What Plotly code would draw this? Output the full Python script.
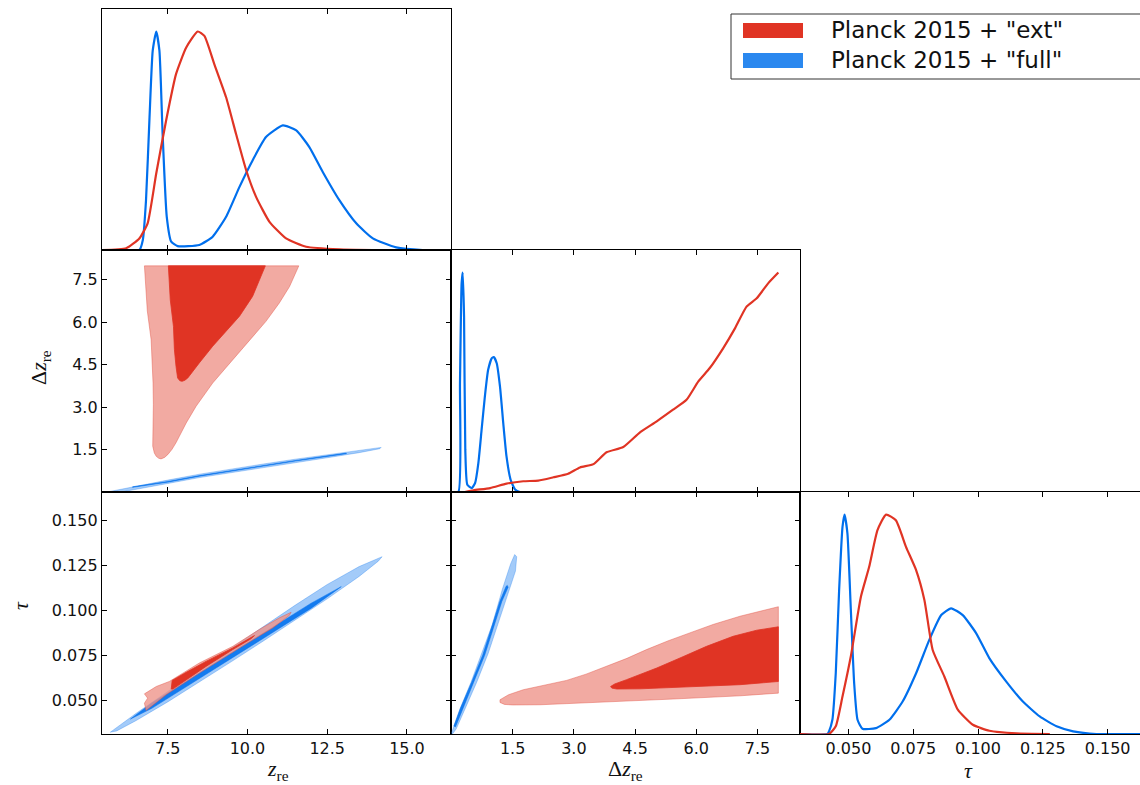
import plotly.graph_objects as go

W, H = 1140, 785
RED = "#E03424"
BLUE = "#006FED"
RED_LIGHT = "rgba(238,146,136,0.78)"
RED_DARK = "rgba(224,52,36,1.0)"
BLUE_LIGHT = "rgba(0,111,237,0.36)"
BLUE_DARK = "rgba(0,111,237,0.88)"

labels = ['Planck 2015 + "ext"', 'Planck 2015 + "full"']

# ---------------- 1D marginals ----------------
zre_ext_x = [5.44, 6.20, 6.61, 6.87, 7.14, 7.45, 7.76, 8.08, 8.44, 8.65, 8.96, 9.33, 9.64, 9.96,
             10.27, 10.69, 11.21, 11.84, 12.88, 13.93]
zre_ext_p = [0, 0.008, 0.053, 0.122, 0.350, 0.593, 0.805, 0.927, 1.0, 0.980, 0.851, 0.699, 0.532,
             0.365, 0.243, 0.129, 0.053, 0.015, 0.003, 0]

zre_full_x = [5.44, 6.61, 6.72, 6.82, 6.93, 7.03, 7.14, 7.24, 7.34, 7.47, 7.61, 7.81, 8.49, 8.91,
              9.33, 9.75, 10.16, 10.58, 11.11, 11.53, 11.94, 12.36, 12.88, 13.41, 13.93, 14.66,
              15.49, 16.38]
zre_full_p = [0, 0, 0.046, 0.228, 0.608, 0.912, 1.0, 0.912, 0.532, 0.152, 0.038, 0.018, 0.023,
              0.061, 0.152, 0.289, 0.410, 0.517, 0.570, 0.547, 0.471, 0.357, 0.228, 0.122, 0.053,
              0.012, 0, 0]

dz_ext_x = [0.33, 0.54, 0.95, 1.35, 1.76, 2.13, 2.50, 2.86, 3.15, 3.48, 3.80, 4.21, 4.62, 5.03,
            5.43, 5.76, 6.05, 6.33, 6.66, 6.95, 7.23, 7.48, 7.76, 8.01]
dz_ext_p = [0, 0.008, 0.018, 0.038, 0.049, 0.052, 0.067, 0.083, 0.112, 0.127, 0.181, 0.205, 0.272,
            0.322, 0.375, 0.42, 0.504, 0.565, 0.656, 0.747, 0.845, 0.883, 0.951, 1.0]

dz_full_x = [0.0, 0.17, 0.21, 0.25, 0.277, 0.31, 0.34, 0.39, 0.50, 0.58, 0.66, 0.74, 0.82, 0.90,
             0.99, 1.04, 1.11, 1.19, 1.27, 1.35, 1.45, 1.56, 1.68, 2.05]
dz_full_p = [0, 0, 0.496, 0.95, 1.0, 0.80, 0.193, 0.033, 0.018, 0.041, 0.132, 0.284, 0.436, 0.557,
             0.61, 0.615, 0.587, 0.481, 0.314, 0.162, 0.056, 0.011, 0, 0]

tau_ext_x = [0.0313, 0.0425, 0.0451, 0.0477, 0.0509, 0.0548, 0.0580, 0.0612, 0.0645, 0.0683,
             0.0722, 0.0761, 0.0793, 0.0825, 0.0870, 0.0922, 0.0980, 0.1044, 0.1148, 0.1277]
tau_ext_p = [0, 0, 0.035, 0.171, 0.353, 0.626, 0.762, 0.929, 1.0, 0.974, 0.853, 0.747, 0.611,
             0.383, 0.262, 0.111, 0.042, 0.015, 0.003, 0]

tau_full_x = [0.0313, 0.0419, 0.0425, 0.0438, 0.0451, 0.0464, 0.0477, 0.0485, 0.0496, 0.0509,
              0.0522, 0.0535, 0.0554, 0.0606, 0.0658, 0.0709, 0.0761, 0.0812, 0.0858, 0.0896,
              0.0941, 0.0993, 0.1044, 0.1109, 0.1173, 0.1238, 0.1303, 0.1367, 0.1457, 0.1625]
tau_full_p = [0, 0, 0.012, 0.065, 0.277, 0.656, 0.944, 1.0, 0.914, 0.571, 0.232, 0.065, 0.024,
              0.027, 0.065, 0.148, 0.277, 0.429, 0.542, 0.573, 0.542, 0.459, 0.345, 0.239,
              0.148, 0.080, 0.035, 0.012, 0, 0]

# ---------------- 2D contours: z_re vs Delta z_re ----------------
ext_zdz_95_x = [6.77, 6.80, 6.86, 6.98, 7.02, 7.04, 7.05, 7.04, 7.03, 7.08, 7.14, 7.22, 7.29, 7.40,
                7.50, 7.63, 7.76, 8.08, 8.39, 8.91, 9.54, 10.16, 10.58, 11.00, 11.32, 11.61]
ext_zdz_95_y = [7.99, 7.30, 6.40, 5.38, 4.60, 3.85, 3.10, 2.44, 1.62, 1.38, 1.26, 1.19, 1.17,
                1.22, 1.32, 1.50, 1.74, 2.44, 3.03, 3.85, 4.68, 5.50, 6.03, 6.68, 7.26, 7.99]
ext_zdz_68_x = [7.52, 7.55, 7.58, 7.68, 7.71, 7.76, 7.81, 7.88, 7.95, 8.04, 8.13, 8.49, 8.91,
                9.33, 9.75, 10.16, 10.56]
ext_zdz_68_y = [7.99, 7.40, 6.79, 5.85, 5.03, 4.44, 4.03, 3.93, 3.91, 3.95, 4.03, 4.56, 5.15,
                5.68, 6.21, 6.91, 7.99]

full_zdz_95_x = [5.6, 6.5, 7.5, 8.5, 9.5, 10.5, 11.5, 12.5, 13.5, 14.19,
                 14.15, 13.5, 12.5, 11.5, 10.5, 9.5, 8.5, 7.5, 6.5, 6.05]
full_zdz_95_y = [0.0, 0.21, 0.42, 0.63, 0.82, 0.99, 1.16, 1.32, 1.47, 1.575,
                 1.53, 1.39, 1.21, 1.04, 0.87, 0.70, 0.51, 0.30, 0.09, 0.0]
full_zdz_68_x = [6.4, 7.5, 8.5, 10.0, 11.5, 13.1, 13.1, 11.5, 10.0, 8.5, 7.5, 6.4]
full_zdz_68_y = [0.185, 0.372, 0.580, 0.858, 1.112, 1.375, 1.355, 1.092, 0.832, 0.560, 0.348, 0.165]

# ---------------- 2D contours: z_re vs tau ----------------
ext_ztau_95_x = [6.77, 7.14, 7.55, 8.49, 9.54, 10.37, 11.00, 11.37, 11.31, 10.79, 9.75, 8.49,
                 7.45, 6.82, 6.77, 6.87]
ext_ztau_95_y = [0.0535, 0.0576, 0.0604, 0.0707, 0.0800, 0.0894, 0.0959, 0.0990, 0.0972, 0.0903,
                 0.0791, 0.0651, 0.0530, 0.0442, 0.0483, 0.0511]
ext_ztau_68_x = [7.61, 7.64, 8.08, 8.70, 9.54, 10.22, 10.11, 9.54, 8.70, 8.08, 7.66]
ext_ztau_68_y = [0.0562, 0.0610, 0.0655, 0.0716, 0.0791, 0.0860, 0.0842, 0.0782, 0.0688, 0.0614,
                 0.0562]

full_ztau_95_x = [5.70, 6.5, 7.5, 8.5, 9.5, 10.5, 11.5, 12.5, 13.5, 14.0, 14.22,
                  14.1, 13.5, 12.5, 11.5, 10.5, 9.5, 8.5, 7.5, 6.5, 5.9]
full_ztau_95_y = [0.0321, 0.0425, 0.0548, 0.0670, 0.0790, 0.0910, 0.1030, 0.1145, 0.1245, 0.1285,
                  0.1300, 0.1275, 0.1190, 0.1065, 0.0945, 0.0830, 0.0715, 0.0600, 0.0490, 0.0385,
                  0.0328]
full_ztau_68_x = [6.33, 7.0, 8.0, 9.0, 10.0, 11.0, 12.0, 12.94, 12.0, 11.0, 10.0, 9.0, 8.0, 7.0]
full_ztau_68_y = [0.0394, 0.0484, 0.0596, 0.0708, 0.0819, 0.0931, 0.1041, 0.1133, 0.1013, 0.0901,
                  0.0789, 0.0678, 0.0566, 0.0454]

# ---------------- 2D contours: Delta z_re vs tau ----------------
ext_dztau_95_x = [1.19, 1.40, 1.76, 2.30, 2.82, 3.30, 3.80, 4.30, 4.78, 5.30, 5.84, 6.41, 7.07,
                  7.55, 8.01, 8.01, 7.07, 5.43, 3.80, 2.17, 1.50, 1.30, 1.19]
ext_dztau_95_y = [0.0502, 0.0530, 0.0558, 0.0584, 0.0610, 0.0645, 0.0688, 0.0733, 0.0782, 0.0830,
                  0.0875, 0.0922, 0.0968, 0.0996, 0.1021, 0.0539, 0.0524, 0.0506, 0.0489, 0.0474,
                  0.0473, 0.0476, 0.0487]
ext_dztau_68_x = [3.90, 4.00, 4.29, 5.03, 5.60, 6.25, 6.90, 7.48, 8.01, 8.01, 7.07, 5.84, 4.62,
                  4.05, 3.93]
ext_dztau_68_y = [0.0576, 0.0590, 0.0614, 0.0679, 0.0735, 0.0800, 0.0856, 0.0890, 0.0909, 0.0604,
                  0.0586, 0.0573, 0.0563, 0.0562, 0.0567]

full_dztau_95_x = [0.0, 0.2, 0.48, 0.72, 1.0, 1.25, 1.45, 1.55, 1.60, 1.57, 1.40, 1.15, 0.90,
                   0.62, 0.35, 0.12, 0.03]
full_dztau_95_y = [0.0315, 0.0445, 0.0600, 0.0750, 0.0920, 0.1120, 0.1260, 0.1312, 0.1300, 0.1220,
                   0.1100, 0.0930, 0.0760, 0.0600, 0.0460, 0.0340, 0.0312]
full_dztau_68_x = [0.06, 0.23, 0.495, 0.765, 0.975, 1.185, 1.34, 1.37, 1.39, 1.235, 1.025, 0.815,
                   0.545, 0.285, 0.10]
full_dztau_68_y = [0.0355, 0.0460, 0.0600, 0.0750, 0.0900, 0.1050, 0.1135, 0.1140, 0.1130, 0.1050,
                   0.0900, 0.0750, 0.0600, 0.0460, 0.0350]

# ---------------- axes ----------------
zre_ticks = [7.5, 10.0, 12.5, 15.0]
zre_ticktext = ["7.5", "10.0", "12.5", "15.0"]
dz_ticks = [1.5, 3.0, 4.5, 6.0, 7.5]
dz_ticktext = ["1.5", "3.0", "4.5", "6.0", "7.5"]
tau_ticks = [0.050, 0.075, 0.100, 0.125, 0.150]
tau_ticktext = ["0.050", "0.075", "0.100", "0.125", "0.150"]

Z_RANGE = [5.44, 16.38]
DZ_XRANGE = [-0.01, 8.54]
DZ_YRANGE = [0.0, 8.55]
TAU_XRANGE = [0.0313, 0.1625]
TAU_YRANGE = [0.0311, 0.1661]
P_RANGE = [0, 1.103]


def px(x):
    return x / W


def py(y):
    return 1 - y / H


cols = [[px(102), px(451)], [px(451), px(800)], [px(800), 1.0]]
rows = [[py(250), py(9)], [py(492), py(250)], [py(734), py(492)]]

fig = go.Figure()


def line(x, y, color, ax):
    fig.add_trace(go.Scatter(x=x, y=y, mode="lines", line=dict(color=color, width=2.2,
                             shape="spline", smoothing=0.5), xaxis="x" + ax, yaxis="y" + ax,
                             showlegend=False, hoverinfo="skip"))


def area(x, y, fill, edge, ax):
    fig.add_trace(go.Scatter(x=list(x) + [x[0]], y=list(y) + [y[0]], mode="lines", fill="toself",
                             fillcolor=fill, line=dict(color=edge, width=0.8),
                             xaxis="x" + ax, yaxis="y" + ax, showlegend=False, hoverinfo="skip"))


# diagonal panels
line(zre_full_x, zre_full_p, BLUE, "")
line(zre_ext_x, zre_ext_p, RED, "")
line(dz_full_x, dz_full_p, BLUE, "3")
line(dz_ext_x, dz_ext_p, RED, "3")
line(tau_full_x, tau_full_p, BLUE, "6")
line(tau_ext_x, tau_ext_p, RED, "6")

BL_EDGE = "rgba(0,111,237,0.35)"
BD_EDGE = "rgba(0,111,237,0.6)"
RL_EDGE = "rgba(224,80,66,0.55)"

# 2D panels
area(full_zdz_95_x, full_zdz_95_y, BLUE_LIGHT, BL_EDGE, "2")
area(full_zdz_68_x, full_zdz_68_y, BLUE_DARK, BD_EDGE, "2")
area(ext_zdz_95_x, ext_zdz_95_y, RED_LIGHT, RL_EDGE, "2")
area(ext_zdz_68_x, ext_zdz_68_y, RED_DARK, RED, "2")

area(full_ztau_95_x, full_ztau_95_y, BLUE_LIGHT, BL_EDGE, "4")
area(full_ztau_68_x, full_ztau_68_y, BLUE_DARK, BD_EDGE, "4")
area(ext_ztau_95_x, ext_ztau_95_y, RED_LIGHT, RL_EDGE, "4")
area(ext_ztau_68_x, ext_ztau_68_y, RED_DARK, RED, "4")

area(full_dztau_95_x, full_dztau_95_y, BLUE_LIGHT, BL_EDGE, "5")
area(full_dztau_68_x, full_dztau_68_y, BLUE_DARK, BD_EDGE, "5")
area(ext_dztau_95_x, ext_dztau_95_y, RED_LIGHT, RL_EDGE, "5")
area(ext_dztau_68_x, ext_dztau_68_y, RED_DARK, RED, "5")

TICKFONT = dict(family="DejaVu Sans", size=16, color="#111")


def axis(domain, rng, anchor, tickvals=None, ticktext=None, labels=False, ticks=True):
    d = dict(domain=domain, range=rng, anchor=anchor, showline=True, linecolor="black",
             linewidth=1.4, mirror="ticks" if ticks else True, showgrid=False, zeroline=False,
             ticks="inside" if ticks else "", ticklen=5, tickwidth=1.3, tickcolor="black",
             showticklabels=labels, tickfont=TICKFONT, fixedrange=True)
    if tickvals is not None:
        d["tickvals"] = tickvals
        d["ticktext"] = ticktext
    else:
        d["showticklabels"] = False
    return d


fig.update_layout(
    width=W, height=H, margin=dict(l=0, r=0, t=0, b=0),
    paper_bgcolor="white", plot_bgcolor="white",
    xaxis=axis(cols[0], Z_RANGE, "y", zre_ticks, zre_ticktext),
    yaxis=axis(rows[0], P_RANGE, "x", ticks=False),
    xaxis2=axis(cols[0], Z_RANGE, "y2", zre_ticks, zre_ticktext),
    yaxis2=axis(rows[1], DZ_YRANGE, "x2", dz_ticks, dz_ticktext, labels=True),
    xaxis3=axis(cols[1], DZ_XRANGE, "y3", dz_ticks, dz_ticktext),
    yaxis3=axis(rows[1], P_RANGE, "x3", ticks=False),
    xaxis4=axis(cols[0], Z_RANGE, "y4", zre_ticks, zre_ticktext, labels=True),
    yaxis4=axis(rows[2], TAU_YRANGE, "x4", tau_ticks, tau_ticktext, labels=True),
    xaxis5=axis(cols[1], DZ_XRANGE, "y5", dz_ticks, dz_ticktext, labels=True),
    yaxis5=axis(rows[2], TAU_YRANGE, "x5", tau_ticks, tau_ticktext),
    xaxis6=axis(cols[2], TAU_XRANGE, "y6", tau_ticks, tau_ticktext, labels=True),
    yaxis6=axis(rows[2], P_RANGE, "x6", ticks=False),
)

TITLEFONT = dict(family="Liberation Serif", size=22, color="#111")
ann = [
    ("<i>z</i><sub>re</sub>", 278, 770, 0),
    ("Δ<i>z</i><sub>re</sub>", 625, 770, 0),
    ("<i>τ</i>", 968, 770, 0),
    ("Δ<i>z</i><sub>re</sub>", 40, 368, -90),
    ("<i>τ</i>", 20, 606, -90),
]
for text, x, y, ang in ann:
    fig.add_annotation(text=text, x=px(x), y=py(y), xref="paper", yref="paper",
                       showarrow=False, textangle=ang, font=TITLEFONT,
                       xanchor="center", yanchor="middle")

# legend (drawn as shapes + text)
fig.add_shape(type="rect", xref="paper", yref="paper", x0=px(731), x1=px(1150), y0=py(79),
              y1=py(14), line=dict(color="#333", width=1), fillcolor="white", layer="above")
for i, (lab, col) in enumerate(zip(labels, [RED, "#2A88EF"])):
    yc = 30 + 30 * i
    fig.add_shape(type="rect", xref="paper", yref="paper", x0=px(743), x1=px(803),
                  y0=py(yc + 8), y1=py(yc - 7), line=dict(width=0), fillcolor=col,
                  layer="above")
    fig.add_annotation(text=lab, x=px(829), y=py(yc), xref="paper", yref="paper",
                       showarrow=False, xanchor="left", yanchor="middle",
                       font=dict(family="DejaVu Sans", size=23, color="#111"))

fig.write_html("out.html")
